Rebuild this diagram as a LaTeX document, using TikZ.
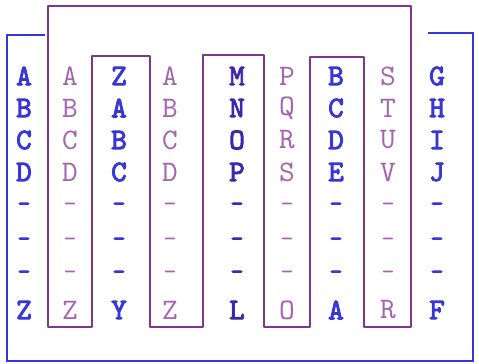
\documentclass[tikz,border=0pt]{standalone}
\usepackage{fontspec}
\usepackage{xcolor}
\usepackage{tikz}
\newfontfamily\stampfont{lmmono10-regular.otf}
\newfontfamily\stampbold[FakeBold=3]{lmmono10-regular.otf}
\definecolor{stampblue}{RGB}{55,55,215}
\definecolor{stampnavy}{RGB}{60,40,170}
\definecolor{stamppurple}{RGB}{125,55,140}
\definecolor{lightpurple}{RGB}{165,100,175}

\tikzset{
  bluecol/.style={font=\stampbold\fontsize{17}{17}\selectfont, text=stampblue, inner sep=0pt},
  navycol/.style={font=\stampbold\fontsize{17}{17}\selectfont, text=stampnavy, inner sep=0pt},
  purplecol/.style={font=\stampfont\fontsize{17}{17}\selectfont, text=lightpurple, inner sep=0pt},
}
\newcommand{\stampdash}{{\fontsize{14}{14}\selectfont -}}

\begin{document}
\begin{tikzpicture}[x=0.02cm, y=-0.02cm]
  \useasboundingbox (0,0) rectangle (479,364);
  % outer blue frame, open at the top
  \draw[stampblue, line width=1.6pt] (45,35) -- (7,35) -- (7,361) -- (473,361) -- (473,33) -- (428,33);
  % purple comb round the thin columns
  \draw[stamppurple, line width=1.4pt, line join=round]
    (48,6) -- (48,327) -- (92,327) -- (92,56) -- (150,56) -- (150,327)
    -- (203,327) -- (203,55) -- (264,55) -- (264,327) -- (310,327)
    -- (310,57) -- (364,57) -- (364,327) -- (411,327) -- (411,6) -- cycle;
  % the nine columns: four letters, three dashes, last letter
  \foreach \x/\first/\last/\sty [count=\c] in {
      24/{A,B,C,D}/Z/bluecol,
      70/{A,B,C,D}/Z/purplecol,
      119/{Z,A,B,C}/Y/bluecol,
      170/{A,B,C,D}/Z/purplecol,
      237/{M,N,O,P}/L/navycol,
      287/{P,Q,R,S}/O/purplecol,
      336/{B,C,D,E}/A/bluecol,
      388/{S,T,U,V}/R/purplecol,
      437/{G,H,I,J}/F/bluecol}
  {
    \foreach \l [count=\r] in \first
      \node[\sty] (l\c-\r) at (\x, {76+(\r-1)*32}) {\l};
    \foreach \y [count=\r] in {207,242,275}
      \node[\sty] (d\c-\r) at (\x, \y) {\stampdash};
    \node[\sty] (z\c) at (\x, 310) {\last};
  }
\end{tikzpicture}
\end{document}
